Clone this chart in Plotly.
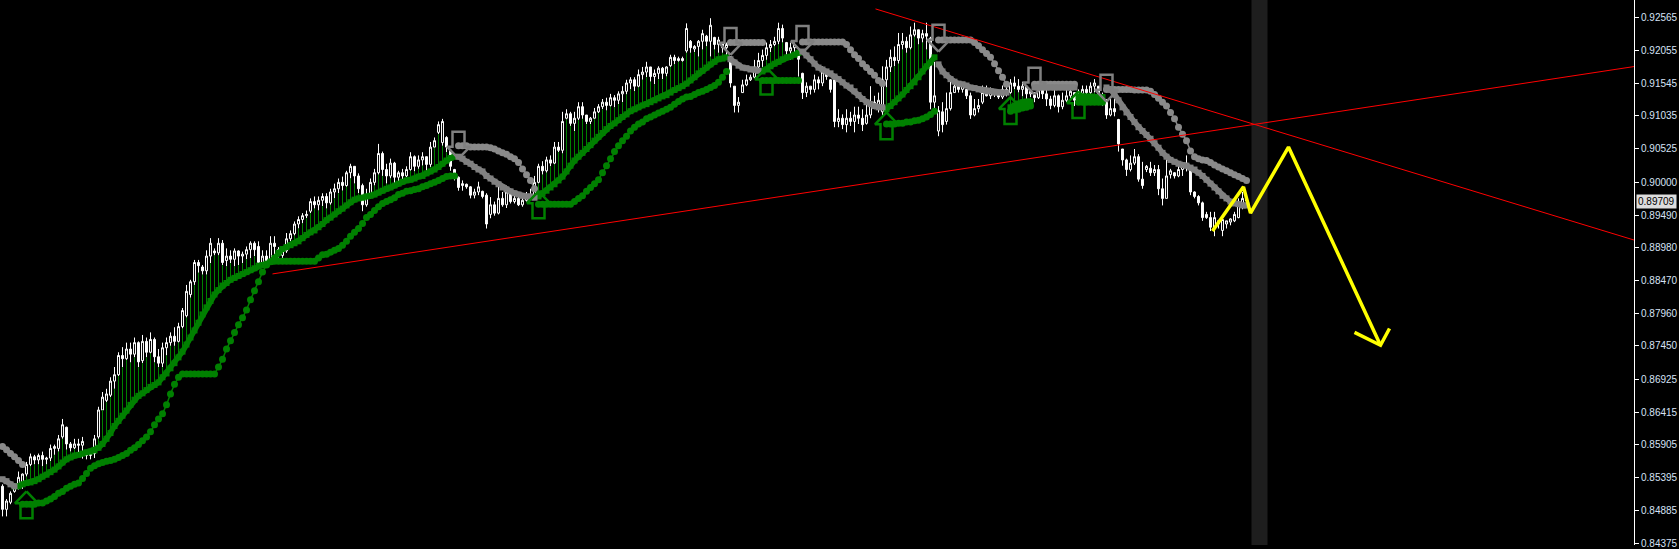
import plotly.graph_objects as go

# ---------------- data (prices x 10000) ----------------
N_BARS = 312
OPEN = [
8526, 8490, 8501, 8518, 8523, 8530, 8545, 8560, 8572, 8567,
8574, 8568, 8570, 8585, 8585, 8603, 8618, 8592, 8586, 8592,
8590, 8580, 8574, 8577, 8603, 8645, 8660, 8668, 8690, 8700,
8730, 8725, 8740, 8732, 8750, 8722, 8752, 8735, 8755, 8728,
8718, 8742, 8750, 8760, 8752, 8775, 8792, 8825, 8845, 8875,
8868, 8862, 8885, 8893, 8890, 8905, 8878, 8885, 8880, 8893,
8885, 8888, 8895, 8905, 8900, 8875, 8885, 8878, 8905, 8895,
8886, 8893, 8912, 8920, 8935, 8942, 8948, 8955, 8970, 8965,
8972, 8978, 8968, 8985, 8990, 9000, 8995, 9015, 9025, 9010,
8995, 8965, 8980, 9000, 9015, 9045, 9020, 9010, 9030, 9008,
9015, 9010, 9020, 9040, 9025, 9035, 9040, 9028, 9055, 9078,
9062, 9070, 9050, 9020, 9008, 8995, 8997, 8993, 8980, 8985,
8986, 8980, 8950, 8965, 8952, 8975, 8965, 8985, 8970, 8975,
8965, 8972, 8980, 8978, 9000, 9025, 9018, 9035, 9030, 9055,
9050, 9100, 9107, 9092, 9100, 9118, 9105, 9095, 9100, 9110,
9118, 9125, 9120, 9132, 9128, 9138, 9142, 9155, 9160, 9150,
9168, 9172, 9180, 9165, 9170, 9178, 9170, 9182, 9195, 9190,
9193, 9205, 9220, 9208, 9212, 9220, 9228, 9220, 9226, 9215,
9218, 9210, 9196, 9150, 9120, 9140, 9152, 9160, 9164, 9180,
9190, 9198, 9210, 9215, 9220, 9240, 9218, 9205, 9210, 9205,
9170, 9140, 9150, 9145, 9160, 9155, 9172, 9160, 9160, 9095,
9100, 9090, 9100, 9095, 9105, 9100, 9092, 9105, 9125, 9118,
9110, 9160, 9180, 9195, 9190, 9215, 9220, 9210, 9230, 9238,
9225, 9232, 9225, 9125, 9080, 9110, 9095, 9115, 9140, 9150,
9145, 9145, 9135, 9105, 9115, 9125, 9140, 9135, 9142, 9138,
9133, 9145, 9140, 9155, 9150, 9145, 9150, 9138, 9140, 9132,
9145, 9138, 9130, 9120, 9135, 9118, 9128, 9135, 9140, 9128,
9138, 9145, 9140, 9150, 9150, 9135, 9125, 9105, 9115, 9098,
9052, 9035, 9020, 9030, 9040, 9005, 9020, 9022, 9015, 9020,
8990, 8975, 9012, 9015, 9010, 9020, 9025, 9025, 8985, 8978,
8968, 8950, 8945, 8930, 8940, 8925, 8935, 8938, 8940, 8945,
8962, 8975]
HIGH = [
8529, 8506, 8518, 8531, 8549, 8546, 8564, 8577, 8575, 8577,
8580, 8572, 8591, 8591, 8606, 8631, 8619, 8595, 8600, 8600,
8603, 8580, 8580, 8606, 8650, 8673, 8678, 8696, 8712, 8735,
8743, 8750, 8750, 8758, 8752, 8762, 8758, 8766, 8758, 8740,
8750, 8758, 8766, 8774, 8781, 8804, 8840, 8848, 8879, 8879,
8871, 8894, 8913, 8897, 8913, 8910, 8897, 8894, 8897, 8894,
8892, 8900, 8908, 8908, 8908, 8894, 8894, 8916, 8916, 8899,
8897, 8921, 8925, 8939, 8947, 8952, 8956, 8975, 8978, 8978,
8983, 8983, 8990, 8998, 9006, 9009, 9018, 9029, 9025, 9014,
8998, 8990, 9006, 9021, 9060, 9048, 9029, 9037, 9032, 9018,
9021, 9025, 9047, 9042, 9042, 9047, 9040, 9063, 9070, 9095,
9099, 9072, 9052, 9021, 9009, 9003, 8998, 8994, 8990, 9001,
8987, 8983, 8977, 8970, 8995, 8985, 8995, 8990, 8980, 8978,
8980, 8985, 8990, 9010, 9029, 9033, 9040, 9042, 9063, 9063,
9110, 9114, 9110, 9110, 9125, 9125, 9105, 9102, 9116, 9122,
9130, 9132, 9138, 9136, 9142, 9150, 9160, 9164, 9164, 9176,
9180, 9188, 9180, 9176, 9181, 9180, 9181, 9199, 9199, 9196,
9196, 9248, 9222, 9214, 9222, 9238, 9230, 9256, 9227, 9227,
9219, 9218, 9196, 9150, 9133, 9160, 9168, 9168, 9191, 9202,
9207, 9218, 9222, 9227, 9249, 9246, 9219, 9218, 9218, 9207,
9171, 9156, 9150, 9168, 9165, 9181, 9176, 9161, 9165, 9114,
9106, 9114, 9110, 9118, 9118, 9114, 9125, 9150, 9135, 9140,
9181, 9191, 9207, 9212, 9233, 9233, 9227, 9243, 9249, 9238,
9238, 9249, 9227, 9188, 9119, 9125, 9140, 9165, 9160, 9153,
9156, 9145, 9140, 9130, 9130, 9151, 9151, 9148, 9145, 9142,
9151, 9151, 9161, 9165, 9161, 9157, 9151, 9145, 9140, 9156,
9145, 9151, 9135, 9145, 9137, 9140, 9145, 9151, 9140, 9145,
9151, 9151, 9156, 9161, 9150, 9140, 9130, 9130, 9130, 9099,
9052, 9037, 9042, 9052, 9044, 9032, 9027, 9032, 9027, 9027,
9006, 9037, 9021, 9016, 9027, 9032, 9042, 9027, 8986, 8980,
8970, 8954, 8954, 8954, 8940, 8944, 8940, 8944, 8954, 8975,
8985, 8980]
LOW = [
8479, 8479, 8498, 8516, 8521, 8522, 8541, 8557, 8560, 8560,
8557, 8560, 8565, 8575, 8580, 8600, 8583, 8580, 8584, 8577,
8569, 8568, 8568, 8570, 8600, 8645, 8657, 8665, 8678, 8698,
8712, 8723, 8719, 8727, 8712, 8718, 8727, 8733, 8719, 8712,
8712, 8730, 8745, 8745, 8750, 8772, 8789, 8820, 8840, 8859,
8856, 8856, 8874, 8886, 8886, 8871, 8869, 8874, 8869, 8871,
8874, 8880, 8882, 8885, 8871, 8871, 8871, 8875, 8886, 8880,
8882, 8890, 8908, 8917, 8928, 8936, 8944, 8952, 8959, 8956,
8963, 8959, 8965, 8975, 8983, 8987, 8993, 9006, 8998, 8983,
8955, 8962, 8975, 8995, 9012, 9010, 8998, 9006, 8993, 8993,
9000, 9008, 9018, 9017, 9021, 9026, 9018, 9024, 9054, 9075,
9057, 9047, 9018, 9003, 8987, 8987, 8990, 8975, 8975, 8980,
8975, 8928, 8944, 8948, 8950, 8962, 8960, 8967, 8967, 8963,
8962, 8970, 8972, 8975, 8998, 9012, 9015, 9025, 9028, 9047,
9045, 9098, 9088, 9080, 9097, 9099, 9091, 9091, 9099, 9108,
9114, 9112, 9118, 9117, 9122, 9125, 9137, 9145, 9142, 9148,
9160, 9164, 9157, 9153, 9161, 9161, 9165, 9180, 9184, 9188,
9188, 9202, 9202, 9203, 9196, 9207, 9212, 9196, 9207, 9202,
9202, 9196, 9148, 9109, 9109, 9140, 9150, 9158, 9162, 9178,
9180, 9191, 9203, 9212, 9215, 9218, 9199, 9191, 9203, 9165,
9130, 9133, 9137, 9140, 9145, 9150, 9160, 9140, 9086, 9086,
9083, 9078, 9088, 9078, 9091, 9080, 9090, 9100, 9114, 9109,
9103, 9148, 9172, 9181, 9185, 9207, 9202, 9207, 9227, 9215,
9218, 9207, 9114, 9114, 9072, 9078, 9090, 9112, 9140, 9140,
9140, 9130, 9099, 9103, 9109, 9122, 9134, 9130, 9133, 9130,
9130, 9134, 9138, 9145, 9140, 9134, 9130, 9133, 9125, 9130,
9130, 9119, 9114, 9117, 9109, 9114, 9125, 9130, 9119, 9125,
9134, 9133, 9134, 9140, 9125, 9119, 9099, 9103, 9103, 9048,
9026, 9010, 9017, 9027, 9001, 8990, 9016, 9010, 9010, 8980,
8964, 8975, 9006, 9006, 9008, 9010, 9017, 8980, 8975, 8964,
8940, 8943, 8924, 8916, 8928, 8916, 8928, 8933, 8938, 8944,
8958, 8965]
CLOSE = [
8490, 8503, 8515, 8526, 8540, 8545, 8560, 8572, 8567, 8574,
8568, 8570, 8585, 8588, 8600, 8622, 8592, 8586, 8592, 8590,
8596, 8574, 8577, 8600, 8645, 8665, 8670, 8690, 8700, 8730,
8725, 8740, 8732, 8750, 8720, 8752, 8735, 8755, 8728, 8718,
8742, 8750, 8760, 8752, 8775, 8800, 8830, 8845, 8875, 8870,
8862, 8885, 8905, 8890, 8905, 8875, 8885, 8880, 8893, 8885,
8888, 8895, 8905, 8895, 8875, 8885, 8878, 8905, 8900, 8886,
8893, 8912, 8920, 8935, 8942, 8948, 8950, 8970, 8965, 8972,
8978, 8968, 8985, 8990, 9000, 8995, 9015, 9025, 9010, 8990,
8965, 8980, 9000, 9015, 9045, 9020, 9010, 9030, 9008, 9015,
9010, 9020, 9040, 9025, 9035, 9040, 9028, 9055, 9065, 9090,
9095, 9055, 9025, 9008, 8992, 8998, 8993, 8980, 8985, 8993,
8978, 8935, 8965, 8952, 8975, 8965, 8985, 8970, 8975, 8965,
8972, 8980, 8975, 9000, 9025, 9018, 9035, 9030, 9055, 9050,
9095, 9107, 9092, 9100, 9118, 9105, 9095, 9100, 9110, 9118,
9125, 9120, 9132, 9128, 9138, 9142, 9155, 9160, 9150, 9168,
9172, 9180, 9165, 9170, 9178, 9170, 9180, 9195, 9190, 9193,
9190, 9240, 9210, 9212, 9220, 9232, 9220, 9245, 9215, 9222,
9210, 9215, 9155, 9120, 9125, 9152, 9160, 9164, 9180, 9190,
9198, 9210, 9215, 9220, 9240, 9225, 9205, 9210, 9215, 9192,
9140, 9150, 9145, 9160, 9155, 9172, 9165, 9145, 9095, 9100,
9090, 9100, 9095, 9105, 9100, 9090, 9105, 9125, 9118, 9128,
9160, 9180, 9195, 9190, 9215, 9220, 9210, 9230, 9238, 9225,
9232, 9228, 9125, 9135, 9112, 9090, 9115, 9140, 9150, 9145,
9152, 9135, 9105, 9115, 9120, 9140, 9135, 9142, 9138, 9133,
9145, 9140, 9155, 9150, 9145, 9150, 9138, 9142, 9132, 9150,
9138, 9130, 9120, 9135, 9118, 9128, 9135, 9142, 9128, 9138,
9145, 9140, 9150, 9155, 9135, 9125, 9105, 9115, 9110, 9060,
9035, 9020, 9030, 9040, 9005, 8995, 9025, 9015, 9020, 8990,
8975, 9010, 9018, 9010, 9020, 9025, 9030, 8985, 8978, 8968,
8945, 8945, 8930, 8945, 8935, 8942, 8940, 8943, 8950, 8968,
8975, 8971]

# trailing-stop indicator segments: (first bar, values x 10000)
FAST_UP = [
    (3, [8526, 8526, 8529, 8531, 8532, 8534, 8537, 8541, 8544, 8548,
         8552, 8557, 8563, 8568, 8571, 8574, 8575, 8577, 8579, 8580,
         8582, 8586, 8592, 8600, 8609, 8620, 8628, 8636, 8644, 8653,
         8661, 8667, 8671, 8676, 8681, 8684, 8688, 8696, 8702, 8710,
         8718, 8727, 8736, 8747, 8758, 8769, 8781, 8794, 8805, 8815,
         8825, 8832, 8839, 8843, 8848, 8851, 8854, 8857, 8860, 8863,
         8866, 8870, 8871, 8873, 8876, 8882, 8890, 8896, 8899, 8902,
         8905, 8908, 8913, 8918, 8922, 8925, 8930, 8935, 8941, 8945,
         8950, 8955, 8959, 8964, 8969, 8973, 8975, 8976, 8978, 8979,
         8981, 8984, 8987, 8990, 8992, 8995, 8998, 9001, 9003, 9004,
         9006, 9009, 9010, 9014, 9017, 9020, 9024, 9029, 9034, 9038,
         9040]),
    (134, [8978, 8983, 8987, 8992, 8997, 9003, 9009, 9017, 9026, 9034,
           9040, 9046, 9052, 9058, 9065, 9071, 9077, 9083, 9088, 9092,
           9097, 9102, 9106, 9111, 9114, 9117, 9120, 9122, 9125, 9128,
           9131, 9134, 9136, 9140, 9144, 9147, 9150, 9154, 9159, 9164,
           9170, 9174, 9179, 9184, 9188, 9192, 9193, 9195]),
    (190, [9173, 9176, 9181, 9185, 9188, 9192, 9195, 9196, 9199, 9202]),
    (221, [9114, 9119, 9125, 9131, 9137, 9144, 9150, 9156, 9164, 9173, 9181, 9187, 9195]),
    (252, [9117, 9120, 9123, 9125, 9126, 9126]),
    (269, [9134, 9134, 9134, 9134, 9133, 9133, 9133]),
]
SLOW_UP = [
    (5, [8498, 8498, 8498, 8498, 8500, 8500, 8503, 8506, 8510, 8515,
         8518, 8523, 8526, 8529, 8531, 8538, 8546, 8554, 8558, 8561,
         8563, 8565, 8566, 8568, 8571, 8574, 8577, 8582, 8586, 8591,
         8597, 8603, 8611, 8622, 8631, 8639, 8653, 8670, 8685, 8696,
         8701, 8701, 8701, 8701, 8701, 8701, 8701, 8701, 8701, 8712,
         8724, 8740, 8753, 8766, 8778, 8789, 8801, 8817, 8831, 8845,
         8860, 8871, 8876, 8877, 8877, 8877, 8877, 8877, 8877, 8877,
         8877, 8877, 8877, 8877, 8882, 8887, 8888, 8891, 8894, 8897,
         8902, 8908, 8916, 8922, 8928, 8936, 8945, 8950, 8956, 8962,
         8967, 8970, 8973, 8976, 8981, 8983, 8986, 8987, 8989, 8990,
         8993, 8995, 8998, 9000, 9003, 9006, 9009, 9010, 9010]),
    (134, [8966, 8966, 8966, 8966, 8966, 8966, 8966, 8966, 8966, 8970,
           8975, 8979, 8986, 8992, 8998, 9004, 9015, 9026, 9037, 9048,
           9057, 9065, 9072, 9080, 9086, 9091, 9094, 9099, 9102, 9105,
           9108, 9111, 9114, 9117, 9122, 9126, 9130, 9133, 9134, 9137,
           9140, 9142, 9145, 9148, 9151, 9156, 9164, 9173]),
    (190, [9159, 9159, 9159, 9159, 9159, 9159, 9159, 9159, 9159, 9159]),
    (221, [9091, 9091, 9091, 9092, 9092, 9094, 9094, 9096, 9097, 9099, 9102, 9106, 9111]),
    (252, [9111, 9113, 9114, 9116, 9117, 9119]),
    (269, [9125, 9125, 9125, 9125, 9125, 9125, 9125]),
]
FAST_DN = [
    (0, [8537, 8534, 8529, 8526]),
    (114, [9040, 9037, 9032, 9029, 9024, 9020, 9017, 9010, 9006, 9001,
           8997, 8992, 8989, 8986, 8983, 8981, 8979, 8978, 8978, 8976]),
    (182, [9192, 9187, 9182, 9179, 9178, 9176, 9176, 9174]),
    (200, [9204, 9198, 9192, 9185, 9179, 9176, 9173, 9170, 9165, 9161,
           9156, 9151, 9148, 9142, 9136, 9130, 9125, 9122, 9119, 9117, 9117]),
    (234, [9184, 9173, 9167, 9161, 9157, 9154, 9153, 9151, 9148, 9147,
           9145, 9144, 9142, 9142, 9140, 9140, 9140, 9140]),
    (258, [9148, 9148, 9148, 9148, 9148, 9148, 9148, 9148, 9148, 9148, 9148]),
    (276, [9148, 9145, 9137, 9128, 9117, 9109, 9102, 9094, 9086, 9080,
           9074, 9068, 9061, 9054, 9046, 9040, 9035, 9032, 9029, 9027,
           9026, 9023, 9020, 9015, 9010, 9004, 8998, 8992, 8986, 8979,
           8975, 8970, 8967, 8966, 8964, 8964]),
]
SLOW_DN = [
    (0, [8588, 8583, 8577, 8572, 8566, 8560]),
    (114, [9057, 9057, 9057, 9055, 9055, 9055, 9055, 9055, 9054, 9052,
           9049, 9046, 9044, 9040, 9037, 9031, 9021, 9012, 9003, 8990]),
    (182, [9218, 9218, 9218, 9218, 9218, 9218, 9218, 9218, 9218]),
    (200, [9219, 9219, 9219, 9219, 9219, 9219, 9219, 9219, 9219, 9219, 9219,
           9215, 9207, 9199, 9193, 9185, 9179, 9173, 9167, 9159, 9154]),
    (234, [9222, 9222, 9222, 9222, 9222, 9222, 9222, 9222, 9222,
           9218, 9213, 9207, 9201, 9195, 9185, 9174, 9164, 9153]),
    (258, [9153, 9153, 9153, 9153, 9153, 9153, 9153, 9153, 9153, 9153, 9153]),
    (276, [9145, 9145, 9145, 9145, 9145, 9145, 9145, 9144, 9144, 9144, 9144,
           9142, 9137, 9131, 9125, 9119, 9109, 9099, 9086, 9075, 9065, 9049,
           9040, 9037, 9035, 9034, 9031, 9027, 9024, 9021, 9018, 9015,
           9012, 9009, 9006, 9003]),
]
# signal arrows: bar index and tip price (x 10000)
UP_ARROW_BARS = [6, 134, 191, 221, 252, 269]
UP_ARROW_P = [8518, 8986, 9179, 9109, 9133, 9142]
DN_ARROW_BARS = [114, 182, 200, 234, 258, 276]
DN_ARROW_P = [9037, 9199, 9202, 9204, 9137, 9126]

# hand-drawn objects
TREND1_X = [67.5, 408]
TREND1_P = [0.88572, 0.91807]
TREND2_X = [218.25, 408]
TREND2_P = [0.92705, 0.89098]
ZIGZAG_X = [302.5, 310.25, 312, 321.5, 344.5]
ZIGZAG_P = [8924, 8993, 8952, 9055, 8746]
ZIGHEAD_X = [338, 344.5, 346.75]
ZIGHEAD_P = [8766, 8746, 8772]
SHIFT_BAND = [312.25, 316.25]

TICK_LABELS = ["0.92565", "0.92055", "0.91545", "0.91035", "0.90525", "0.90000",
               "0.89490", "0.88980", "0.88470", "0.87960", "0.87450", "0.86925",
               "0.86415", "0.85905", "0.85395", "0.84885", "0.84375"]
LAST_PRICE = "0.89709"

for name, arr in (("OPEN", OPEN), ("HIGH", HIGH), ("LOW", LOW), ("CLOSE", CLOSE)):
    assert len(arr) == N_BARS, (name, len(arr))

# ---------------- layout constants ----------------
W, H = 1679, 549
MR = 45
X_RANGE = [-0.625, 407.875]          # half-pixel offset keeps 1px wicks crisp
Y_RANGE = [0.84344, 0.92844]
PX_PER_BAR = (W - MR) / (X_RANGE[1] - X_RANGE[0])
PX_PER_PRICE = H / (Y_RANGE[1] - Y_RANGE[0])

GREEN = "#008000"
GREY = "#808080"
DOT_GREY = "#8a8a8a"

bars = list(range(N_BARS))
o = [v / 1e4 for v in OPEN]
h = [v / 1e4 for v in HIGH]
l = [v / 1e4 for v in LOW]
c = [v / 1e4 for v in CLOSE]


def expand(segments):
    arr = [None] * N_BARS
    for start, vals in segments:
        for k, v in enumerate(vals):
            arr[start + k] = v / 1e4
    return arr


fast_up = expand(FAST_UP)
slow_up = expand(SLOW_UP)
fast_dn = expand(FAST_DN)
slow_dn = expand(SLOW_DN)

fig = go.Figure()

fig.add_shape(type="rect", xref="x", yref="paper", x0=SHIFT_BAND[0], x1=SHIFT_BAND[1],
              y0=0, y1=1, fillcolor="#1e1e1e", line_width=0, layer="below")

fig.add_trace(go.Candlestick(
    x=bars, open=o, high=h, low=l, close=c,
    increasing=dict(line=dict(color="#ffffff", width=1), fillcolor="#000000"),
    decreasing=dict(line=dict(color="#ffffff", width=1), fillcolor="#ffffff"),
    whiskerwidth=0, hoverinfo="skip", showlegend=False))

# thin histogram lines from the bullish trailing line up to the candle
gx, gy = [], []
for i in bars:
    if fast_up[i] is not None and l[i] > fast_up[i]:
        gx += [i, i, None]
        gy += [fast_up[i], l[i], None]
fig.add_trace(go.Scatter(x=gx, y=gy, mode="lines", line=dict(color=GREEN, width=1),
                         hoverinfo="skip", showlegend=False))

# slow dotted lines
for arr, col in ((slow_up, GREEN), (slow_dn, DOT_GREY)):
    fig.add_trace(go.Scatter(x=bars, y=arr, mode="lines+markers",
                             line=dict(color=col, width=1.5),
                             marker=dict(symbol="circle", size=7, color=col),
                             hoverinfo="skip", showlegend=False))
# fast thick lines
for arr, col in ((fast_up, GREEN), (fast_dn, GREY)):
    fig.add_trace(go.Scatter(x=bars, y=arr, mode="lines+markers",
                             line=dict(color=col, width=5.5),
                             marker=dict(symbol="square", size=6, color=col),
                             hoverinfo="skip", showlegend=False))

# trend lines
for tx, tp in ((TREND1_X, TREND1_P), (TREND2_X, TREND2_P)):
    fig.add_trace(go.Scatter(x=tx, y=tp, mode="lines", line=dict(color="#ff0000", width=1),
                             hoverinfo="skip", showlegend=False))

# hollow block arrows (shape offsets in screen pixels)
ARROW_SHAPE = [(0, 0), (11.5, 12), (6, 12), (6, 27), (-6, 27), (-6, 12), (-11.5, 12), (0, 0)]


def arrow_path(bs, ps, direction):
    xs, ys = [], []
    for b, p in zip(bs, ps):
        for ox, oy in ARROW_SHAPE:
            xs.append(b + ox / PX_PER_BAR)
            ys.append(p / 1e4 - direction * oy / PX_PER_PRICE)
        xs.append(None)
        ys.append(None)
    return xs, ys


ax, ay = arrow_path(UP_ARROW_BARS, UP_ARROW_P, 1)
fig.add_trace(go.Scatter(x=ax, y=ay, mode="lines", line=dict(color=GREEN, width=2.5),
                         hoverinfo="skip", showlegend=False))
ax, ay = arrow_path(DN_ARROW_BARS, DN_ARROW_P, -1)
fig.add_trace(go.Scatter(x=ax, y=ay, mode="lines", line=dict(color=GREY, width=2.5),
                         hoverinfo="skip", showlegend=False))

# yellow projection
fig.add_trace(go.Scatter(x=ZIGZAG_X, y=[v / 1e4 for v in ZIGZAG_P], mode="lines",
                         line=dict(color="#ffff00", width=3.5), hoverinfo="skip", showlegend=False))
fig.add_trace(go.Scatter(x=ZIGHEAD_X, y=[v / 1e4 for v in ZIGHEAD_P], mode="lines",
                         line=dict(color="#ffff00", width=3.5), hoverinfo="skip", showlegend=False))

fig.add_annotation(xref="paper", x=1, xanchor="left", xshift=2, yref="y", y=float(LAST_PRICE),
                   text=LAST_PRICE, showarrow=False, bgcolor="#dcdcdc", borderpad=1,
                   font=dict(family="Liberation Sans", size=10, color="#000000"))

fig.update_layout(
    width=W, height=H, margin=dict(l=0, r=MR, t=0, b=0),
    paper_bgcolor="#000000", plot_bgcolor="#000000", showlegend=False,
    xaxis=dict(range=X_RANGE, visible=False, rangeslider=dict(visible=False),
               showgrid=False, zeroline=False),
    yaxis=dict(range=Y_RANGE, side="right", showgrid=False, zeroline=False,
               showline=True, linecolor="#ffffff", linewidth=1,
               ticks="outside", ticklen=4, tickcolor="#ffffff",
               ticklabeloverflow="allow",
               tickvals=[float(t) for t in TICK_LABELS], ticktext=TICK_LABELS,
               tickfont=dict(family="Liberation Sans", size=10, color="#d6e2f5")),
)

fig.write_html("out.html", include_plotlyjs=True,
               config={"displayModeBar": False, "staticPlot": True},
               post_script="document.body.style.margin='0';document.body.style.background='#000';")
